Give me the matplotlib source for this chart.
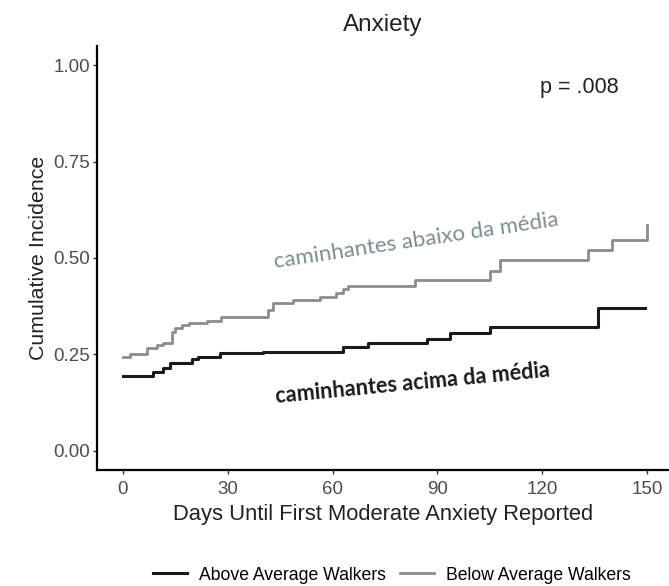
#importar pacotes
import matplotlib
matplotlib.use('Agg')
import matplotlib.pyplot as plt

#dados lidos do grafico
#above average walkers (preto)
dias_acima = [0, 8.6, 11.5, 13.5, 19.7, 21.5, 27.8, 40, 63, 70, 87, 93.6, 105, 136, 149.5]
inc_acima = [0.195, 0.203, 0.215, 0.228, 0.238, 0.244, 0.253, 0.256, 0.269, 0.28,
             0.291, 0.305, 0.32, 0.37, 0.37]
#below average walkers (cinza)
dias_abaixo = [0, 2, 6.8, 9.7, 11.5, 14, 15, 17, 19, 24, 28, 41.6, 43, 48.7, 56.4,
               61, 63, 64.5, 83.6, 105, 108, 133, 140, 150]
inc_abaixo = [0.244, 0.251, 0.266, 0.275, 0.28, 0.308, 0.318, 0.326, 0.331, 0.337,
              0.347, 0.365, 0.383, 0.391, 0.399, 0.409, 0.42, 0.428, 0.443, 0.466,
              0.495, 0.52, 0.547, 0.585]
#eixos
xticks = [0, 30, 60, 90, 120, 150]
yticks = [0.00, 0.25, 0.50, 0.75, 1.00]
ytick_labels = ['0.00', '0.25', '0.50', '0.75', '1.00']

plt.rcParams['font.family'] = ['Liberation Sans', 'DejaVu Sans']

#criar figura
fig, ax = plt.subplots(figsize=(6.69, 5.86), dpi=100)
fig.subplots_adjust(left=97/669, right=1.0, bottom=1-470/586, top=1-46/586)

#curvas
ax.step(dias_acima, inc_acima, where='post', color='#1a1a1a', linewidth=2.2,
        label='Above Average Walkers')
ax.step(dias_abaixo, inc_abaixo, where='post', color='#8c8c8c', linewidth=2.0,
        label='Below Average Walkers')

#dimensao dos eixos
ax.set_xlim(-7.44, 156.3)
ax.set_ylim(-0.05, 1.05)
ax.set_xticks(xticks)
ax.set_yticks(yticks)
ax.set_yticklabels(ytick_labels)
ax.tick_params(colors='#333333', labelcolor='#4d4d4d', labelsize=13.5, length=3, width=1,
               pad=2)
ax.tick_params(axis='x', pad=5)
ax.spines['top'].set_visible(False)
ax.spines['right'].set_visible(False)
ax.spines['left'].set_linewidth(1.6)
ax.spines['bottom'].set_linewidth(1.6)

#nomes nos eixos
ax.set_title('Anxiety', fontsize=17.5, color='#222222', pad=11)
ax.set_xlabel('Days Until First Moderate Anxiety Reported', fontsize=15.8, color='#222222', labelpad=4)
ax.set_ylabel('Cumulative Incidence', fontsize=15.4, color='#222222', labelpad=4)

#anotacoes
fig.text(579/669, 1-88/586, 'p = .008', fontsize=15.5, color='#222222',
         ha='center', va='center')
ax.text(84, 0.545, 'caminhantes abaixo da média', fontsize=16, family=['Lato', 'DejaVu Sans'],
        color='#7b8d92', rotation=8.5, ha='center', va='center', rotation_mode='anchor')
ax.text(83, 0.175, 'caminhantes acima da média', fontsize=15.6, family=['Lato', 'DejaVu Sans'],
        fontweight='bold', color='#1a1a1a', rotation=5.5, ha='center', va='center',
        rotation_mode='anchor')

#legenda
fig.legend(loc='center', bbox_to_anchor=(392/669, 1-575/586), ncol=2, frameon=False,
           fontsize=12.7, handlelength=1.9, columnspacing=0.8, handletextpad=0.7)

#salvar a figura
plt.savefig('out.png', format='png', dpi=100)
